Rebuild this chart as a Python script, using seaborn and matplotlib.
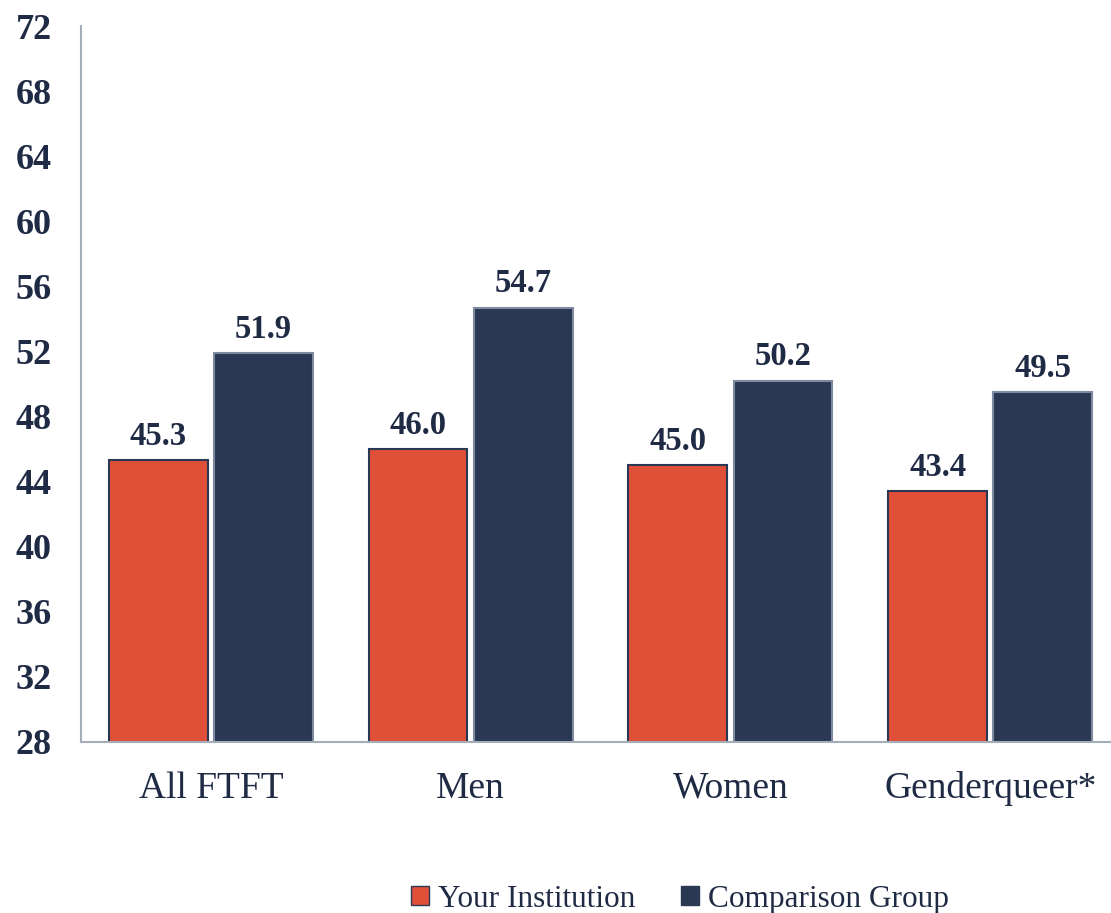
import pandas as pd
import matplotlib.pyplot as plt
import seaborn as sns
from matplotlib.patches import Patch

# data
categories = ["All FTFT", "Men", "Women", "Genderqueer*"]
your_institution = [45.3, 46.0, 45.0, 43.4]
comparison_group = [51.9, 54.7, 50.2, 49.5]
series_names = ["Your Institution", "Comparison Group"]
y_ticks = [28, 32, 36, 40, 44, 48, 52, 56, 60, 64, 68, 72]

RED = "#E05038"
NAVY = "#2A3854"
AXIS = "#A3AEB8"
TEXT = "#1F2A44"

df = pd.DataFrame({
    "group": categories * 2,
    "series": [series_names[0]] * 4 + [series_names[1]] * 4,
    "value": your_institution + comparison_group,
})

sns.set_theme(style="white")
plt.rcParams["font.family"] = ["Liberation Serif", "DejaVu Serif"]

fig = plt.figure(figsize=(11.11, 9.13), dpi=100)
ax = fig.add_axes([0.0729, 0.1873, 0.9271, 0.7842])

sns.barplot(data=df, x="group", y="value", hue="series", saturation=1,
            palette=[RED, NAVY], width=0.81, gap=0.06, ax=ax, legend=False)

# edges: dark on red bars, grey-blue on navy bars
for bar_container, ec in zip(ax.containers, [NAVY, "#7E8AA0"]):
    for bar in bar_container:
        bar.set_edgecolor(ec)
        bar.set_linewidth(1.5)
    ax.bar_label(bar_container, fmt="%.1f", padding=6, fontsize=23.5,
                 fontweight="bold", color=TEXT)

ax.set_ylim(28, 72)
ax.set_xlim(-0.5, 3.465)
ax.set_yticks(y_ticks)
ax.set_xlabel("")
ax.set_ylabel("")

for side in ["top", "right"]:
    ax.spines[side].set_visible(False)
for side in ["left", "bottom"]:
    ax.spines[side].set_color(AXIS)
    ax.spines[side].set_linewidth(1.5)

ax.tick_params(axis="y", labelsize=26, colors=TEXT, length=0, pad=21)
ax.tick_params(axis="x", labelsize=27, colors=TEXT, length=0, pad=21)
for lab in ax.get_yticklabels():
    lab.set_fontweight("bold")

handles = [Patch(facecolor=RED, edgecolor=NAVY, linewidth=1),
           Patch(facecolor=NAVY, edgecolor=NAVY)]
fig.legend(handles, series_names, loc="center", bbox_to_anchor=(0.612, 0.015),
           ncol=2, frameon=False, fontsize=22.5, handlelength=0.58, handleheight=0.58,
           handletextpad=0.3, columnspacing=1.45, labelcolor=TEXT)

fig.savefig("out.png", dpi=100)
